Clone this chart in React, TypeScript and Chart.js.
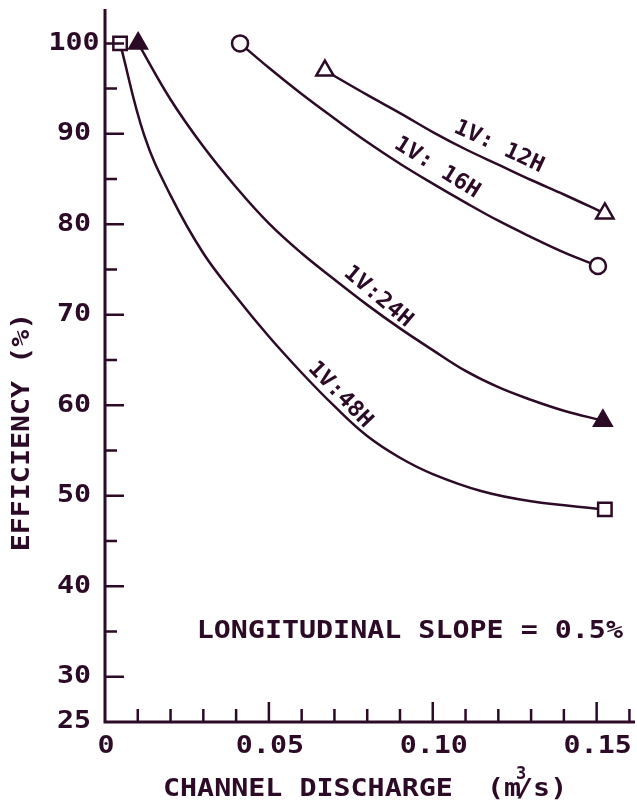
import React, { useEffect, useRef } from "react";
import { Chart, registerables } from "chart.js";

Chart.register(...registerables);

const INK = "#2b0b25";
const FONT = '"DejaVu Sans Mono", monospace';

// Axis ticks
const xTickLabelValues = [0, 0.05, 0.1, 0.15];
const xTickLabels = ["0", "0.05", "0.10", "0.15"];
const xTicksMajor = [0.05, 0.1, 0.15];
const xTicksMinor = [0.01, 0.02, 0.03, 0.04, 0.06, 0.07, 0.08, 0.09, 0.11, 0.12, 0.13, 0.14, 0.16];
const yTickLabelValues = [25, 30, 40, 50, 60, 70, 80, 90, 100];
const yTickLabels = ["25", "30", "40", "50", "60", "70", "80", "90", "100"];
const yTicksMajor = [30, 40, 50, 60, 70, 80, 90, 100];
const yTicksMinor = [35, 45, 55, 65, 75, 85, 95];

// Series: channel discharge (m3/s) vs efficiency (%)
const q12 = [0.0671, 0.08, 0.09, 0.1, 0.11, 0.12, 0.13, 0.14, 0.1525];
const eff12 = [97.0, 94.3, 92.3, 90.2, 88.3, 86.6, 84.9, 83.3, 81.2];

const q16 = [0.0412, 0.05, 0.06, 0.07, 0.08, 0.09, 0.1, 0.11, 0.12, 0.13, 0.14, 0.1504];
const eff16 = [100.0, 97.3, 94.4, 91.7, 89.1, 86.7, 84.5, 82.4, 80.4, 78.6, 76.9, 75.4];

const q24 = [0.0101, 0.02, 0.03, 0.04, 0.05, 0.06, 0.07, 0.08, 0.09, 0.1, 0.11, 0.12, 0.13, 0.14, 0.1519];
const eff24 = [100.0, 93.8, 88.6, 84.1, 80.1, 76.8, 73.9, 71.1, 68.5, 66.1, 63.8, 62.0, 60.6, 59.4, 58.3];

const q48 = [0.0046, 0.012, 0.02, 0.03, 0.04, 0.05, 0.06, 0.07, 0.08, 0.09, 0.1, 0.115, 0.13, 0.1525];
const eff48 = [100.0, 89.8, 83.2, 76.8, 72.0, 67.6, 63.6, 59.9, 56.6, 54.2, 52.4, 50.5, 49.4, 48.5];

// Curve labels (anchored in data units)
const curveLabels = ["1V: 12H", "1V: 16H", "1V:24H", "1V:48H"];
const curveLabelQ = [0.1202, 0.1013, 0.0833, 0.0717];
const curveLabelEff = [88.56, 86.24, 71.98, 61.15];
const curveLabelAngle = [25, 32, 40, 46];

const noteText = "LONGITUDINAL SLOPE = 0.5%";
const noteQ = 0.093;
const noteEff = 35;

const xTitleMain = "CHANNEL DISCHARGE  (m";
const xTitleSup = "3";
const xTitleEnd = "/s)";
const yTitle = "EFFICIENCY (%)";

function pts(xs: number[], ys: number[]) {
  return xs.map((x, i) => ({ x, y: ys[i] }));
}

const WIDE = 1.18;

function wideText(ctx: any, text: string, x: number, y: number, align: string) {
  ctx.save();
  ctx.translate(x, y);
  ctx.scale(WIDE, 1);
  ctx.textAlign = align;
  ctx.textBaseline = "middle";
  ctx.fillText(text, 0, 0);
  ctx.restore();
}

const axesPlugin = {
  id: "plotterAxes",
  afterDatasetsDraw(chart: any) {
    const { ctx, chartArea } = chart;
    const xs = chart.scales.x;
    const ys = chart.scales.y;
    const { left, right, top, bottom } = chartArea;
    ctx.save();
    ctx.strokeStyle = INK;
    ctx.fillStyle = INK;
    ctx.lineCap = "butt";
    ctx.lineJoin = "miter";

    // axis lines
    ctx.lineWidth = 3;
    ctx.beginPath();
    ctx.moveTo(left, top);
    ctx.lineTo(left, bottom);
    ctx.lineTo(right, bottom);
    ctx.stroke();

    // ticks (inward)
    ctx.lineWidth = 2.5;
    ctx.beginPath();
    yTicksMajor.forEach((v) => {
      const p = ys.getPixelForValue(v);
      ctx.moveTo(left, p);
      ctx.lineTo(left + 19, p);
    });
    yTicksMinor.forEach((v) => {
      const p = ys.getPixelForValue(v);
      ctx.moveTo(left, p);
      ctx.lineTo(left + 12, p);
    });
    xTicksMajor.forEach((v) => {
      const p = xs.getPixelForValue(v);
      ctx.moveTo(p, bottom);
      ctx.lineTo(p, bottom - 20);
    });
    xTicksMinor.forEach((v) => {
      const p = xs.getPixelForValue(v);
      ctx.moveTo(p, bottom);
      ctx.lineTo(p, bottom - 13);
    });
    ctx.stroke();

    ctx.font = `bold 24px ${FONT}`;
    ctx.letterSpacing = "0px";

    // tick labels
    yTickLabelValues.forEach((v, i) => {
      wideText(ctx, yTickLabels[i], 74, ys.getPixelForValue(v), "center");
    });
    xTickLabelValues.forEach((v, i) => {
      wideText(ctx, xTickLabels[i], xs.getPixelForValue(v) + 1, bottom + 25, "center");
    });

    // note
    wideText(ctx, noteText, xs.getPixelForValue(noteQ), ys.getPixelForValue(noteEff), "center");

    // x title
    const tx = 163;
    const ty = 790;
    wideText(ctx, xTitleMain, tx, ty, "left");
    const x2 = tx + ctx.measureText(xTitleMain).width * WIDE - 5;
    wideText(ctx, xTitleEnd, x2, ty, "left");
    ctx.font = `bold 17px ${FONT}`;
    ctx.textAlign = "center";
    ctx.textBaseline = "middle";
    ctx.fillText(xTitleSup, x2 + 5, ty - 15);

    // y title
    ctx.font = `bold 24px ${FONT}`;
    ctx.save();
    ctx.translate(23, 432);
    ctx.rotate(-Math.PI / 2);
    wideText(ctx, yTitle, 0, 0, "center");
    ctx.restore();

    // curve labels
    ctx.font = `bold 22px ${FONT}`;
    curveLabels.forEach((t, i) => {
      ctx.save();
      ctx.translate(xs.getPixelForValue(curveLabelQ[i]), ys.getPixelForValue(curveLabelEff[i]));
      ctx.rotate((curveLabelAngle[i] * Math.PI) / 180);
      ctx.scale(1.04, 1);
      ctx.textAlign = "center";
      ctx.textBaseline = "middle";
      ctx.fillText(t, 0, 0);
      ctx.restore();
    });

    ctx.restore();
  },
};

function endpointRadius(r: number) {
  return (c: any) => {
    const n = c.dataset.data.length;
    return c.dataIndex === 0 || c.dataIndex === n - 1 ? r : 0;
  };
}

export default function App() {
  const ref = useRef<HTMLCanvasElement | null>(null);

  useEffect(() => {
    if (!ref.current) return;
    const mk = (data: any[], style: string, r: number, fill: string) => ({
      data,
      showLine: true,
      borderColor: INK,
      borderWidth: 2.5,
      tension: 0.4,
      pointStyle: style,
      pointRadius: endpointRadius(r),
      pointBackgroundColor: fill,
      pointBorderColor: INK,
      pointBorderWidth: 2.5,
      clip: false,
    });
    const chart = new Chart(ref.current, {
      type: "scatter",
      data: {
        datasets: [
          mk(pts(q12, eff12), "triangle", 10, "#ffffff"),
          mk(pts(q16, eff16), "circle", 8, "#ffffff"),
          mk(pts(q24, eff24), "triangle", 10, INK),
          mk(pts(q48, eff48), "rect", 9.5, "#ffffff"),
        ] as any,
      },
      options: {
        responsive: false,
        animation: false,
        events: [],
        layout: { autoPadding: false, padding: { left: 105, right: 2, top: 9, bottom: 86 } },
        scales: {
          x: { type: "linear", min: 0, max: 0.1617, display: false },
          y: { type: "linear", min: 25, max: 103.8, display: false },
        },
        plugins: {
          legend: { display: false },
          tooltip: { enabled: false },
        },
      },
      plugins: [axesPlugin],
    });
    return () => chart.destroy();
  }, []);

  return (
    <div style={{ position: "fixed", left: 0, top: 0, width: 637, height: 808, background: "#ffffff" }}>
      <canvas ref={ref} width={637} height={808} style={{ display: "block" }} />
    </div>
  );
}
